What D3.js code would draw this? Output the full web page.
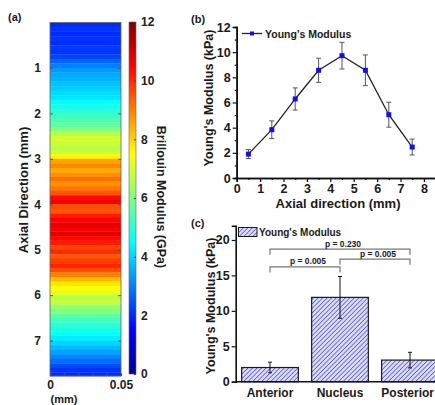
<!DOCTYPE html>
<html>
<head>
<meta charset="utf-8">
<script src="https://cdn.jsdelivr.net/npm/d3@7"></script>
<style>
body { margin: 0; background: #fff; }
text { font-family: "Liberation Sans", Arial, sans-serif; font-weight: bold; fill: #1a1a1a; }
</style>
</head>
<body>
<svg id="fig" width="435" height="405"></svg>
<script>
// (a) Brillouin modulus profile along the axial direction, one value per 0.1 mm row
var brillouinGPa = [
    2.0, 2.1, 2.0, 2.1, 2.0, 2.2, 2.1, 2.3, 2.7, 3.0,
    3.3, 3.5, 3.6, 3.8, 3.9, 4.1, 4.2, 4.5, 4.7, 5.0,
    5.2, 5.4, 5.6, 6.0, 6.6, 7.0, 6.9, 6.6, 6.9, 7.6,
    8.6, 8.9, 8.5, 8.8, 9.2, 8.8, 9.1, 9.5, 10.4, 10.6,
    9.6, 9.5, 10.2, 10.5, 10.8, 10.6, 10.9, 10.4, 10.2, 9.7,
    10.0, 9.5, 9.8, 10.1, 9.6, 9.0, 8.3, 7.8, 7.5, 7.2,
    6.6, 6.9, 6.3, 6.0, 5.6, 5.3, 5.0, 4.8, 4.6, 4.3,
    4.0, 3.7, 3.4, 3.1, 2.8, 2.4, 2.1, 2.0
];
var rowStep = 0.1;
var depthTicks = [1, 2, 3, 4, 5, 6, 7];
var widthTicks = [0, 0.01, 0.02, 0.03, 0.04, 0.05];
var colorTicks = [0, 2, 4, 6, 8, 10, 12];

// (b) Young's modulus vs axial position
var axialMm = [0.5, 1.5, 2.5, 3.5, 4.5, 5.5, 6.5, 7.5];
var youngKPa = [1.9, 3.84, 6.28, 8.56, 9.72, 8.56, 5.03, 2.46];
var youngErr = [0.36, 0.7, 0.88, 0.96, 1.06, 1.22, 0.99, 0.63];

// (c) Young's modulus by region
var regions = ['Anterior', 'Nucleus', 'Posterior'];
var regionKPa = [2.0, 11.9, 3.05];
var regionErr = [0.75, 2.95, 1.1];
var pairs = [
    { a: 'Anterior', b: 'Posterior', p: 'p = 0.230', level: 18.7 },
    { a: 'Anterior', b: 'Nucleus', p: 'p = 0.005', level: 16.2 },
    { a: 'Nucleus', b: 'Posterior', p: 'p = 0.005', level: 17.3 }
];

var svg = d3.select('#fig');

var jet = d3.scaleLinear()
    .domain([0, 1.5, 4.5, 7.5, 10.5, 12])
    .range(['#00008f', '#0000ff', '#00ffff', '#ffff00', '#ff0000', '#800000'])
    .clamp(true);

// ---------- panel (a) ----------
var yA = d3.scaleLinear().domain([0, 7.78]).range([22.5, 376]);
var xA = d3.scaleLinear().domain([0, 0.05]).range([50, 121]);

var gA = svg.append('g');
gA.selectAll('rect.row')
    .data(brillouinGPa)
    .enter()
    .append('rect')
    .attr('class', 'row')
    .attr('x', xA(0))
    .attr('width', xA(0.05) - xA(0))
    .attr('y', (d, i) => yA(i * rowStep))
    .attr('height', (d, i) => yA(Math.min((i + 1) * rowStep, 7.78)) - yA(i * rowStep) + 0.3)
    .attr('fill', d => jet(d));

gA.append('rect')
    .attr('x', xA(0)).attr('y', yA(0))
    .attr('width', xA(0.05) - xA(0)).attr('height', yA(7.78) - yA(0))
    .attr('fill', 'none').attr('stroke', '#666').attr('stroke-width', 0.8);

gA.append('g')
    .attr('transform', `translate(${xA(0)},0)`)
    .call(d3.axisLeft(yA).tickValues(depthTicks).tickSize(-3).tickPadding(9).tickFormat(d3.format('d')));
gA.append('g')
    .attr('transform', `translate(${xA(0.05)},0)`)
    .call(d3.axisRight(yA).tickValues(depthTicks).tickSize(-3).tickFormat(''));
gA.append('g')
    .attr('transform', `translate(0,${yA(7.78)})`)
    .call(d3.axisBottom(xA).tickValues(widthTicks).tickSize(-3).tickPadding(4)
        .tickFormat(d => (d === 0 ? '0' : d === 0.05 ? '0.05' : '')));
gA.selectAll('.domain').remove();
gA.selectAll('.tick line').attr('stroke', '#555');
gA.selectAll('.tick text').attr('font-size', 12).style('fill', '#222');

gA.append('text')
    .attr('transform', `translate(23,190) rotate(-90)`)
    .attr('text-anchor', 'middle')
    .attr('dy', '0.35em')
    .attr('font-size', 13)
    .text('Axial Direction (mm)');
gA.append('text')
    .attr('x', 64).attr('y', 402.5)
    .attr('text-anchor', 'middle')
    .attr('font-size', 11)
    .text('(mm)');

// colorbar
var yCb = d3.scaleLinear().domain([0, 12]).range([374, 22]);
var grad = svg.append('defs').append('linearGradient')
    .attr('id', 'jetGrad')
    .attr('x1', 0).attr('y1', 1).attr('x2', 0).attr('y2', 0);
d3.range(0, 12.01, 0.5).forEach(v => {
    grad.append('stop').attr('offset', v / 12).attr('stop-color', jet(v));
});
gA.append('rect')
    .attr('x', 129).attr('y', yCb(12))
    .attr('width', 7).attr('height', yCb(0) - yCb(12))
    .attr('fill', 'url(#jetGrad)')
    .attr('stroke', '#666').attr('stroke-width', 0.6);
var cbAx = gA.append('g')
    .attr('transform', 'translate(136,0)')
    .call(d3.axisRight(yCb).tickValues(colorTicks).tickSize(-2).tickPadding(5));
cbAx.select('.domain').remove();
cbAx.selectAll('.tick line').attr('stroke', '#444');
cbAx.selectAll('.tick text').attr('font-size', 12).style('fill', '#222');

gA.append('text')
    .attr('transform', 'translate(161,197) rotate(90)')
    .attr('text-anchor', 'middle')
    .attr('dy', '0.35em')
    .attr('font-size', 12.5)
    .text('Brillouin Modulus (GPa)');

// ---------- panel (b) ----------
var xB = d3.scaleLinear().domain([0, 8.5]).range([236.7, 435.6]);
var yB = d3.scaleLinear().domain([0, 12]).range([178, 27]);
var gB = svg.append('g');

gB.append('g')
    .attr('transform', `translate(${xB(0)},0)`)
    .call(d3.axisLeft(yB).tickValues(d3.range(1, 12, 2)).tickSize(2).tickFormat(''));
gB.append('g')
    .attr('transform', `translate(0,${yB(0)})`)
    .call(d3.axisBottom(xB).tickValues(d3.range(0.5, 8.5, 1)).tickSize(2).tickFormat(''));
gB.append('g')
    .attr('transform', `translate(${xB(0)},0)`)
    .call(d3.axisLeft(yB).tickValues(d3.range(0, 13, 2)).tickSize(4).tickPadding(2));
gB.append('g')
    .attr('transform', `translate(0,${yB(0)})`)
    .call(d3.axisBottom(xB).tickValues(d3.range(0, 9, 1)).tickSize(4).tickPadding(2));
gB.selectAll('.domain').attr('stroke', '#111').attr('stroke-width', 1.6);
gB.selectAll('.tick line').attr('stroke', '#111').attr('stroke-width', 1.2);
gB.selectAll('.tick text').attr('font-size', 12.5).style('fill', '#1a1a1a');

var ptsB = axialMm.map((x, i) => ({ x: x, y: youngKPa[i], e: youngErr[i] }));
gB.append('path')
    .datum(ptsB)
    .attr('fill', 'none')
    .attr('stroke', '#222')
    .attr('stroke-width', 1.3)
    .attr('d', d3.line().x(d => xB(d.x)).y(d => yB(d.y)));

var errB = gB.selectAll('g.err').data(ptsB).enter().append('g').attr('class', 'err')
    .attr('stroke', '#555').attr('stroke-width', 1);
errB.append('line')
    .attr('x1', d => xB(d.x)).attr('x2', d => xB(d.x))
    .attr('y1', d => yB(d.y - d.e)).attr('y2', d => yB(d.y + d.e));
errB.append('line')
    .attr('x1', d => xB(d.x) - 2.5).attr('x2', d => xB(d.x) + 2.5)
    .attr('y1', d => yB(d.y + d.e)).attr('y2', d => yB(d.y + d.e));
errB.append('line')
    .attr('x1', d => xB(d.x) - 2.5).attr('x2', d => xB(d.x) + 2.5)
    .attr('y1', d => yB(d.y - d.e)).attr('y2', d => yB(d.y - d.e));

gB.selectAll('rect.mk').data(ptsB).enter().append('rect')
    .attr('class', 'mk')
    .attr('x', d => xB(d.x) - 2.5).attr('y', d => yB(d.y) - 2.5)
    .attr('width', 5).attr('height', 5)
    .attr('fill', '#1010f0');

gB.append('line')
    .attr('x1', 242).attr('x2', 262).attr('y1', 33.5).attr('y2', 33.5)
    .attr('stroke', '#222').attr('stroke-width', 1.3);
gB.append('rect')
    .attr('x', 250).attr('y', 31.5).attr('width', 4).attr('height', 4)
    .attr('fill', '#1010f0');
gB.append('text')
    .attr('x', 265).attr('y', 37.5)
    .attr('font-size', 10.5)
    .text("Young's Modulus");

gB.append('text')
    .attr('transform', 'translate(209,98) rotate(-90)')
    .attr('text-anchor', 'middle')
    .attr('dy', '0.35em')
    .attr('font-size', 12.5)
    .text("Young's Modulus (kPa)");
gB.append('text')
    .attr('x', 338).attr('y', 208)
    .attr('text-anchor', 'middle')
    .attr('font-size', 13)
    .text('Axial direction (mm)');

// ---------- panel (c) ----------
var xC = d3.scaleBand().domain(regions).range([235.7, 444.3]).paddingInner(0.19).paddingOuter(0.085);
var yC = d3.scaleLinear().domain([0, 22]).range([381.7, 225.8]);
var gC = svg.append('g');

var pat = svg.select('defs').append('pattern')
    .attr('id', 'hatch')
    .attr('patternUnits', 'userSpaceOnUse')
    .attr('width', 3.2).attr('height', 3.2)
    .attr('patternTransform', 'rotate(45)');
pat.append('rect').attr('width', 3.2).attr('height', 3.2).attr('fill', '#dcdcfa');
pat.append('line')
    .attr('x1', 0).attr('y1', 0).attr('x2', 0).attr('y2', 3.2)
    .attr('stroke', '#3a3ad0').attr('stroke-width', 1.3);

gC.selectAll('rect.bar')
    .data(regions)
    .enter()
    .append('rect')
    .attr('class', 'bar')
    .attr('x', d => xC(d))
    .attr('width', xC.bandwidth())
    .attr('y', (d, i) => yC(regionKPa[i]))
    .attr('height', (d, i) => yC(0) - yC(regionKPa[i]))
    .attr('fill', 'url(#hatch)')
    .attr('stroke', '#1a1a1a')
    .attr('stroke-width', 1.2);

var errC = gC.selectAll('g.err').data(regions).enter().append('g').attr('class', 'err')
    .attr('stroke', '#111').attr('stroke-width', 1);
var cx = d => xC(d) + xC.bandwidth() / 2;
errC.append('line')
    .attr('x1', cx).attr('x2', cx)
    .attr('y1', (d, i) => yC(regionKPa[i] - regionErr[i]))
    .attr('y2', (d, i) => yC(regionKPa[i] + regionErr[i]));
errC.append('line')
    .attr('x1', d => cx(d) - 2).attr('x2', d => cx(d) + 2)
    .attr('y1', (d, i) => yC(regionKPa[i] + regionErr[i]))
    .attr('y2', (d, i) => yC(regionKPa[i] + regionErr[i]));
errC.append('line')
    .attr('x1', d => cx(d) - 2).attr('x2', d => cx(d) + 2)
    .attr('y1', (d, i) => yC(regionKPa[i] - regionErr[i]))
    .attr('y2', (d, i) => yC(regionKPa[i] - regionErr[i]));

var axCl = gC.append('g')
    .attr('transform', `translate(${xC.range()[0]},0)`)
    .call(d3.axisLeft(yC).tickValues([0, 5, 10, 15, 20]).tickSize(4).tickPadding(2));
var axCb = gC.append('g')
    .attr('transform', `translate(0,${yC(0)})`)
    .call(d3.axisBottom(xC).tickSize(0).tickPadding(7));
axCb.select('.domain').attr('d', `M${xC.range()[0]},0H435`);
gC.selectAll('.domain').attr('stroke', '#111').attr('stroke-width', 1.6);
gC.selectAll('.tick line').attr('stroke', '#111').attr('stroke-width', 1.2);
axCl.selectAll('.tick text').attr('font-size', 12.5).style('fill', '#1a1a1a');
axCb.selectAll('.tick text').attr('font-size', 12).style('fill', '#1a1a1a');
// last label sits against the right edge, as in the figure
axCb.selectAll('.tick text').filter(d => d === 'Posterior').attr('text-anchor', 'end').attr('x', 434 - cx('Posterior'));

var br = gC.selectAll('g.pair').data(pairs).enter().append('g').attr('class', 'pair');
br.append('path')
    .attr('fill', 'none')
    .attr('stroke', '#777')
    .attr('stroke-width', 1.2)
    .attr('d', d => `M${cx(d.a)},${yC(d.level - 0.8)}V${yC(d.level)}H${cx(d.b)}V${yC(d.level - 0.8)}`);
br.append('text')
    .attr('x', d => (cx(d.a) + cx(d.b)) / 2 + 3)
    .attr('y', d => yC(d.level) - 2.5)
    .attr('text-anchor', 'middle')
    .attr('font-size', 8.5)
    .text(d => d.p);

gC.append('rect')
    .attr('x', 238.5).attr('y', 227.5).attr('width', 18.5).attr('height', 9)
    .attr('fill', 'url(#hatch)').attr('stroke', '#1a1a1a').attr('stroke-width', 1);
gC.append('text')
    .attr('x', 259).attr('y', 236)
    .attr('font-size', 10)
    .text("Young's Modulus");

gC.append('text')
    .attr('transform', 'translate(211,306) rotate(-90)')
    .attr('text-anchor', 'middle')
    .attr('dy', '0.35em')
    .attr('font-size', 12.5)
    .text("Young's Modulus (kPa)");

// panel letters
[['(a)', 8, 21], ['(b)', 191, 23], ['(c)', 191, 227]].forEach(t => {
    svg.append('text').attr('x', t[1]).attr('y', t[2]).attr('font-size', 11).text(t[0]);
});
</script>
</body>
</html>
